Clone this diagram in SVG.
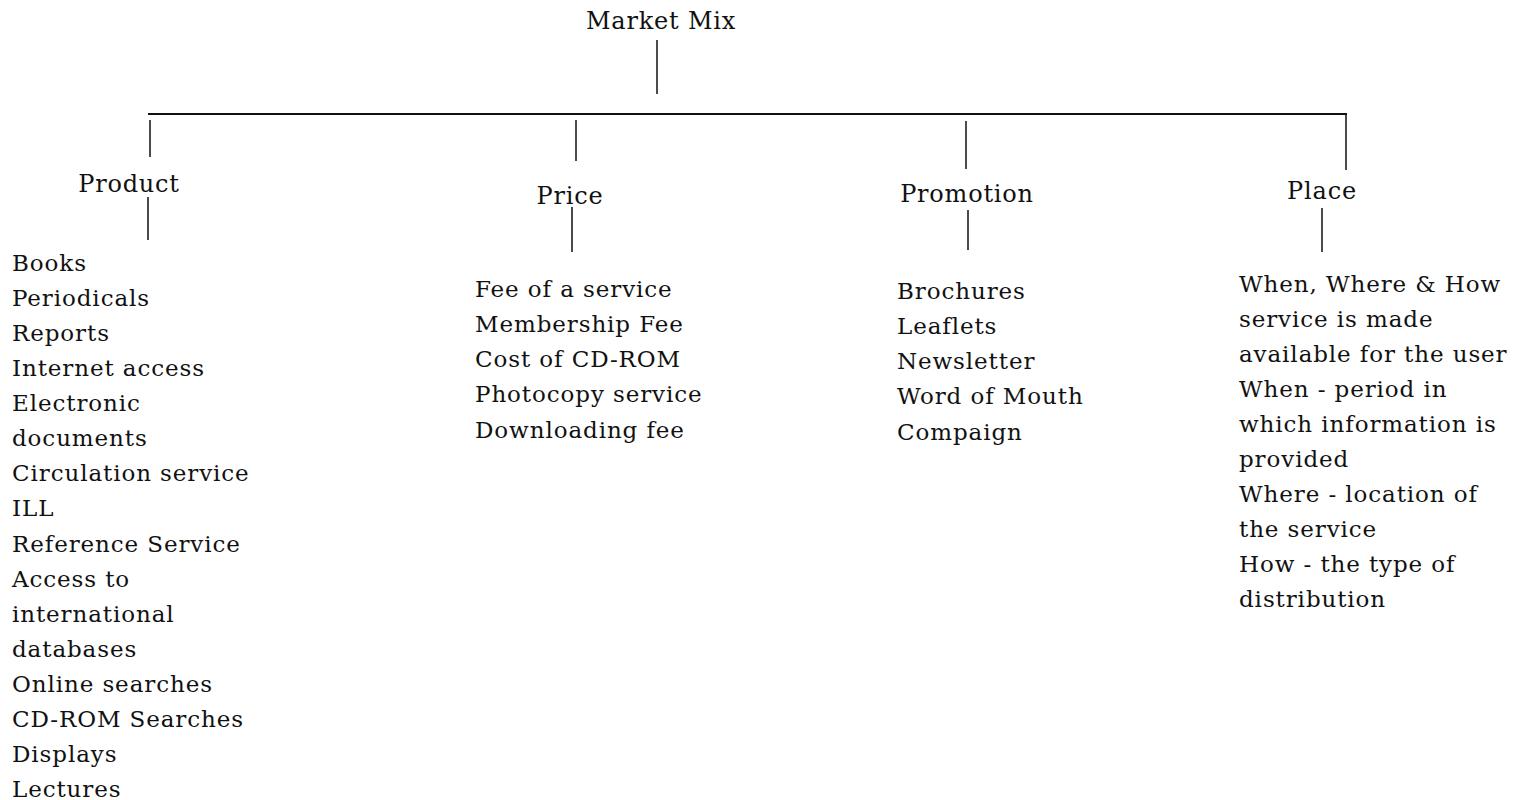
<svg xmlns="http://www.w3.org/2000/svg" width="1516" height="800" viewBox="0 0 1516 800">
<style>
text{font-family:"DejaVu Serif","Liberation Serif",serif;font-size:23px;letter-spacing:0.9px;fill:#111}
.h{font-size:24px;letter-spacing:0.8px}
.c line{stroke:#111;stroke-width:1.5}
</style>
<rect width="1516" height="800" fill="#fff"/>
<g id="connectors" class="c">
<line x1="657" y1="40" x2="657" y2="94"/>
<line x1="148" y1="114" x2="1347" y2="114" style="stroke-width:2"/>
<line x1="150" y1="120" x2="150" y2="157"/>
<line x1="576" y1="120" x2="576" y2="161"/>
<line x1="966" y1="121" x2="966" y2="169"/>
<line x1="1346" y1="115" x2="1346" y2="170"/>
<line x1="148" y1="197" x2="148" y2="240"/>
<line x1="572" y1="207" x2="572" y2="252"/>
<line x1="968" y1="210" x2="968" y2="250"/>
<line x1="1322" y1="208" x2="1322" y2="252"/>
</g>
<g id="market-mix"><text class="h" x="661" y="29" text-anchor="middle">Market Mix</text></g>
<g id="product">
<text class="h" x="129" y="192" text-anchor="middle">Product</text>
<text x="12" y="271">Books</text>
<text x="12" y="306">Periodicals</text>
<text x="12" y="341">Reports</text>
<text x="12" y="376">Internet access</text>
<text x="12" y="411">Electronic</text>
<text x="12" y="446">documents</text>
<text x="12" y="481">Circulation service</text>
<text x="12" y="516">ILL</text>
<text x="12" y="552">Reference Service</text>
<text x="12" y="587">Access to</text>
<text x="12" y="622">international</text>
<text x="12" y="657">databases</text>
<text x="12" y="692">Online searches</text>
<text x="12" y="727">CD-ROM Searches</text>
<text x="12" y="762">Displays</text>
<text x="12" y="797">Lectures</text>
</g>
<g id="price">
<text class="h" x="570" y="204" text-anchor="middle">Price</text>
<text x="475" y="297">Fee of a service</text>
<text x="475" y="332">Membership Fee</text>
<text x="475" y="367">Cost of CD-ROM</text>
<text x="475" y="402">Photocopy service</text>
<text x="475" y="438">Downloading fee</text>
</g>
<g id="promotion">
<text class="h" x="967" y="202" text-anchor="middle">Promotion</text>
<text x="897" y="299">Brochures</text>
<text x="897" y="334">Leaflets</text>
<text x="897" y="369">Newsletter</text>
<text x="897" y="404">Word of Mouth</text>
<text x="897" y="440">Compaign</text>
</g>
<g id="place">
<text class="h" x="1322" y="199" text-anchor="middle">Place</text>
<text x="1239" y="292">When, Where &amp; How</text>
<text x="1239" y="327">service is made</text>
<text x="1239" y="362">available for the user</text>
<text x="1239" y="397">When - period in</text>
<text x="1239" y="432">which information is</text>
<text x="1239" y="467">provided</text>
<text x="1239" y="502">Where - location of</text>
<text x="1239" y="537">the service</text>
<text x="1239" y="572">How - the type of</text>
<text x="1239" y="607">distribution</text>
</g>
</svg>
